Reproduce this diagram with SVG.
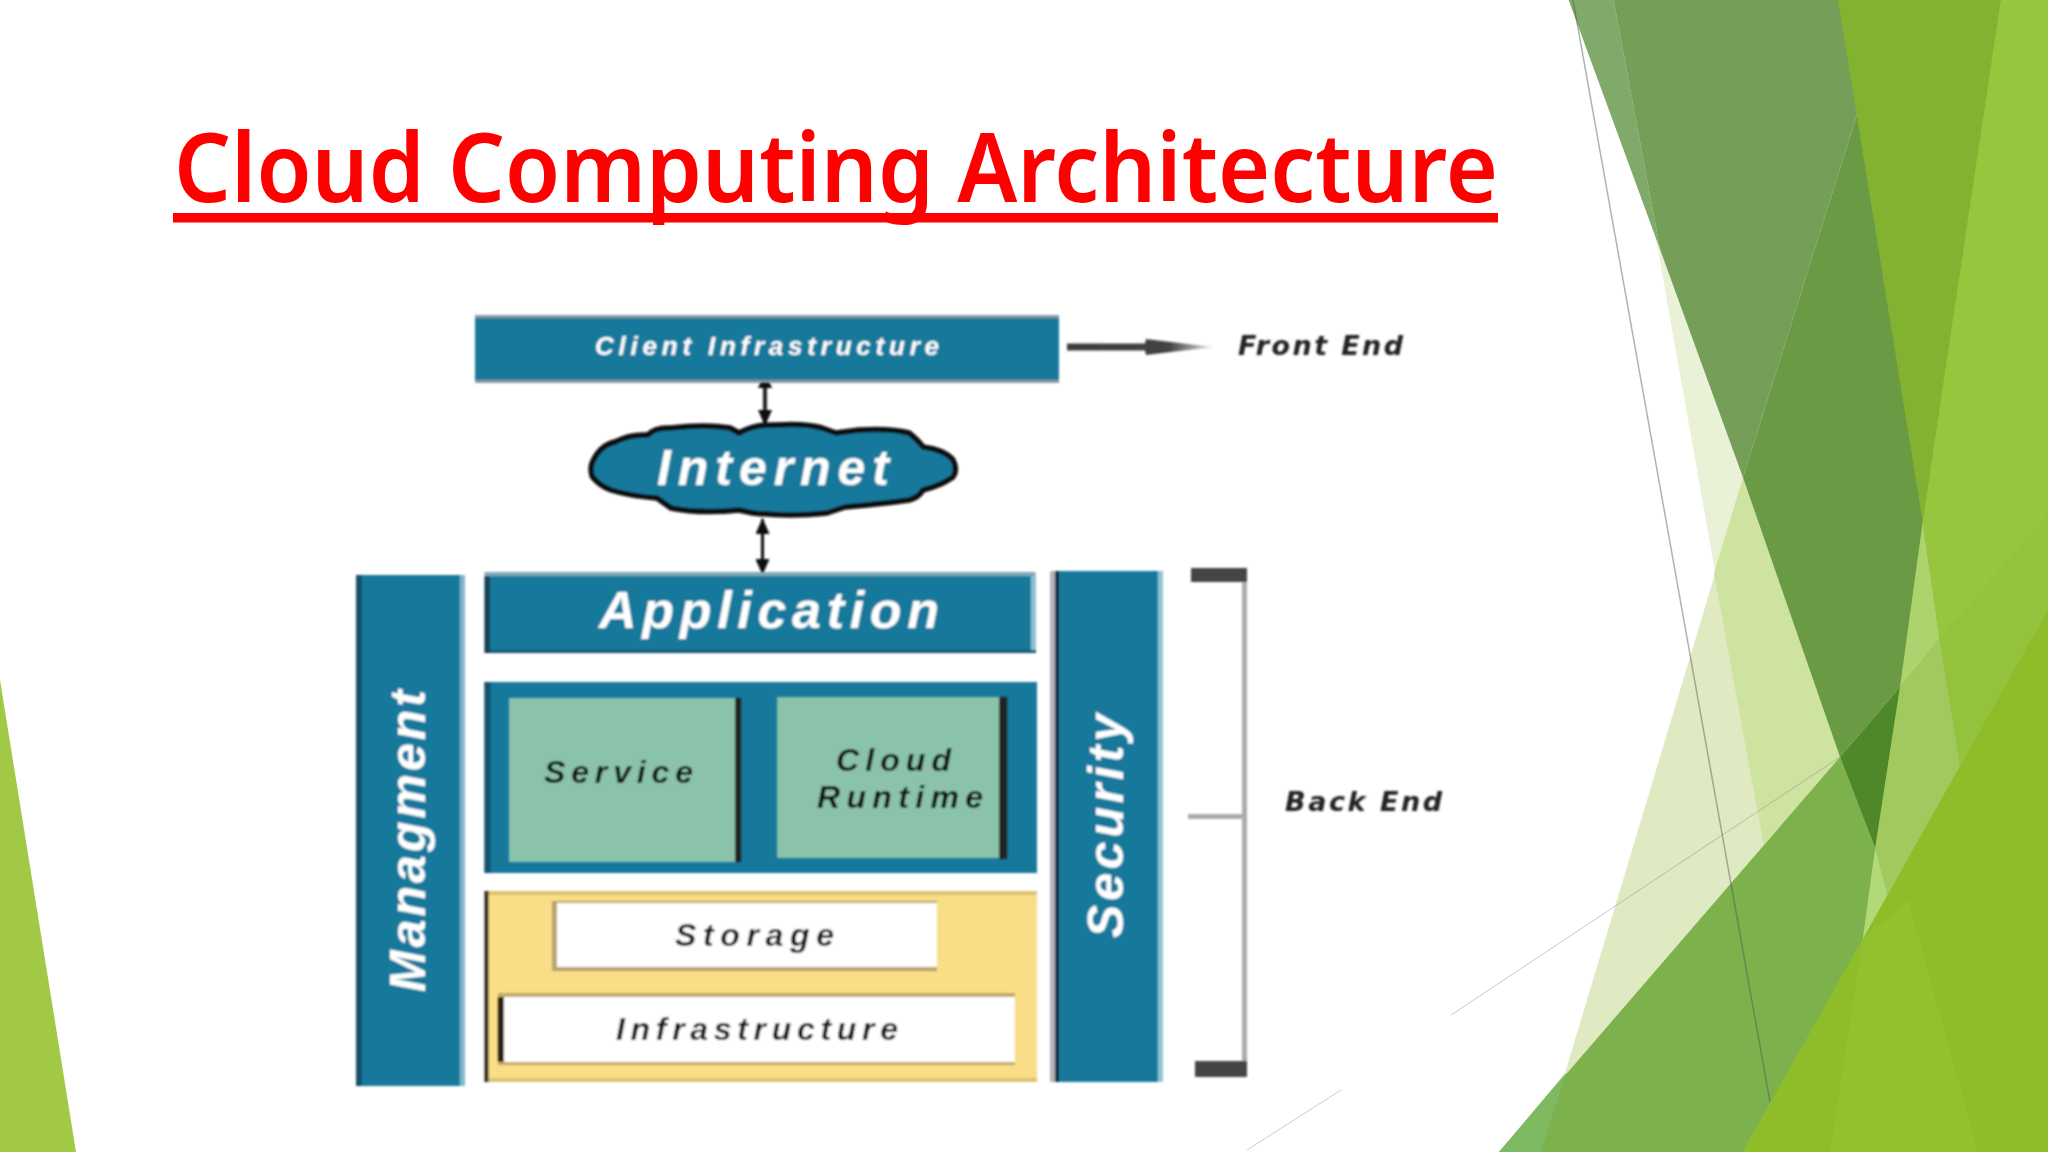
<svg xmlns="http://www.w3.org/2000/svg" width="2048" height="1152" viewBox="0 0 2048 1152">
<style>
.t{font-family:"Liberation Sans",Arial,sans-serif;font-weight:700;font-style:italic}
.d{font-family:"DejaVu Sans",sans-serif;font-weight:700;font-style:italic}
.w{fill:#fff}.k{fill:#111}
.b{fill:#18799b}
</style>
<defs>
<filter id="soft" filterUnits="userSpaceOnUse" x="0" y="0" width="2048" height="1152"><feGaussianBlur stdDeviation="0.9"/></filter>
<linearGradient id="ag" x1="0" x2="1" y1="0" y2="0"><stop offset="0" stop-color="#3c3c3c"/><stop offset=".7" stop-color="#444"/><stop offset="1" stop-color="#444" stop-opacity=".15"/></linearGradient>
<marker id="h" markerUnits="userSpaceOnUse" markerWidth="16" markerHeight="14" refX="15" refY="7" orient="auto-start-reverse"><path d="M0 0L16 7L0 14z" fill="#111"/></marker>
</defs>
<rect width="2048" height="1152" fill="#fff"/>
<g id="background">
<polygon points="0,680 76,1152 0,1152" fill="#a2c945"/>
<polygon points="1854.5,110 1565,1073 1499,1152 1900,1152 1960,600" fill="#dfeac2"/>
<polygon points="1613.6,0 1838,0 1960,757 1887,889 1763.6,845" fill="#e9f1d6"/>
<polygon points="1743,477.6 1840,757 1763.6,845 1714,573" fill="#cfe3a0"/>
<polygon points="1838,0 2048,0 2048,1152 1743,1152 1862,933 1922,521" fill="#95c23c"/>
<polygon points="1499,1152 1840,757 1875.2,848.6 1862.8,939 1743,1152" fill="#7cb14c"/>
<polygon points="1499,1152 1566,1073 1541,1152" fill="#7dba62"/>
<polygon points="1568.6,0 1613.6,0 1660.3,250" fill="#80a96a"/>
<polygon points="1860,105 1940,521.7 1900,687 1840,757 1743,477.6" fill="#6a9a43"/>
<polygon points="1613.6,0 1850,0 1860,105 1743,477.6 1660.3,250" fill="#759e58"/>
<polygon points="1840,757 1900,687 1875.2,848.6" fill="#4f8828"/>
<polygon points="1838,0 2001,0 1922.7,521.7" fill="#82b230"/>
<polygon points="2001,0 2048,0 2048,514 1939.3,639 1922.7,521.7" fill="#98c53e"/>
<polygon points="1922.7,521.7 1939.3,639 1900,687" fill="#add36e"/>
<polygon points="1900,687 1939.3,639 1960,766 1887.6,895 1875.2,848.6" fill="#a1c95f"/>
<polygon points="1875.2,848.6 1887.6,895 1862.8,939" fill="#b2d977"/>
<polygon points="2048,610 2048,1152 1743,1152" fill="#8fbd2a"/>
<polygon points="1862.8,939 1908,900 1978,1152 1830,1152" fill="#93c12e"/>
<line x1="1573" y1="0" x2="1770" y2="1102" stroke="#555" stroke-opacity=".45" stroke-width="1.5"/>
<line x1="1451" y1="1015" x2="1840" y2="757" stroke="#777" stroke-opacity=".4"/>
<line x1="1247" y1="1150" x2="1341" y2="1090" stroke="#999" stroke-opacity=".5"/>
</g>
<g id="title">
<text x="174" y="202" font-family="Noto Sans,Open Sans,sans-serif" font-weight="650" font-size="95" fill="#f00" textLength="1324" lengthAdjust="spacingAndGlyphs">Cloud Computing Architecture</text>
<rect x="173" y="213" width="1325" height="9.500" fill="#f00"/>
</g>
<g id="connectors" filter="url(#soft)">
<line x1="765" y1="373" x2="765" y2="425" stroke="#222" stroke-width="4" marker-start="url(#h)" marker-end="url(#h)"/>
<line x1="762.500" y1="519" x2="762.500" y2="574" stroke="#111" stroke-width="3" marker-start="url(#h)" marker-end="url(#h)"/>
<path d="M1067 343.500H1145L1146 339L1213 347L1146 355L1145 350.500H1067z" fill="url(#ag)"/>
</g>
<g id="client" filter="url(#soft)">
<rect x="475" y="315" width="584" height="68" fill="#8a9aa2"/>
<rect x="475" y="318" width="584" height="62" class="b"/>
<text class="t w" x="595" y="355" font-size="26" textLength="344">Client Infrastructure</text>
</g>
<g id="internet" filter="url(#soft)">
<path d="M592 463Q600 445 615 442Q630 434 648 435Q655 427 671 428Q705 424 730 428L739 433Q755 424 776 425Q805 423 822 428L836 433L859 430Q890 428 909 433Q918 440 923 447Q945 450 953 460Q958 470 953 477Q940 486 923 490Q918 498 909 500Q880 504 845 507L827 513Q790 517 753 513L739 510Q700 514 671 508L657 498Q630 496 611 490Q600 486 592.500 477Q590 470 592 463z" class="b" stroke="#0b0b0b" stroke-width="5.500" stroke-linejoin="round"/>
<text class="t w" x="657" y="485" font-size="50" textLength="232">Internet</text>
</g>
<g id="application" filter="url(#soft)">
<rect x="484.500" y="572" width="551" height="81" fill="#7fa8ba"/>
<rect x="484.500" y="576" width="6" height="77" fill="#123f55"/>
<rect x="490" y="576" width="541" height="77" class="b"/>
<rect x="490" y="650" width="546" height="3" fill="#14566f"/>
<rect x="1031" y="576" width="5" height="74" fill="#8fc0d4"/>
<text class="t w" x="599" y="628" font-size="52" textLength="340">Application</text>
</g>
<g id="managment" filter="url(#soft)">
<rect x="356" y="575" width="109" height="511" class="b"/>
<rect x="356" y="575" width="6" height="511" fill="#14516c"/>
<rect x="460" y="575" width="5" height="511" fill="#7fb6cc"/>
<text class="t w" transform="translate(425 992) rotate(-90)" font-size="50" textLength="302">Managment</text>
</g>
<g id="services" filter="url(#soft)">
<rect x="484.500" y="682" width="552.500" height="191" class="b"/>
<rect x="484.500" y="682" width="6" height="191" fill="#14516c"/>
</g>
<g id="service" filter="url(#soft)">
<rect x="735" y="698" width="6" height="164" fill="#222"/>
<rect x="509" y="698" width="226" height="164" fill="#8bc3aa"/>
<text class="t k" x="544" y="783" font-size="32" textLength="149">Service</text>
</g>
<g id="cloud-runtime" filter="url(#soft)">
<rect x="999" y="697" width="8" height="162" fill="#222"/>
<rect x="777" y="697" width="222" height="161" fill="#8bc3aa"/>
<text class="t k" x="836" y="771" font-size="32" textLength="115">Cloud</text>
<text class="t k" x="817" y="808" font-size="32" textLength="166">Runtime</text>
</g>
<g id="resources" filter="url(#soft)">
<rect x="484.500" y="891" width="552.500" height="191" fill="#f9dd87"/>
<rect x="484.500" y="891" width="552.500" height="4" fill="#dcc273"/>
<rect x="484.500" y="1078" width="552.500" height="4" fill="#dcc273"/>
<rect x="484.500" y="891" width="4" height="191" fill="#222"/>
</g>
<g id="storage" filter="url(#soft)">
<rect x="552" y="901" width="385" height="70" fill="#b9a56a"/>
<rect x="557" y="903" width="380" height="64" fill="#fff"/>
<text class="t k" x="675" y="946" font-size="32" textLength="159">Storage</text>
</g>
<g id="infrastructure" filter="url(#soft)">
<rect x="498" y="993" width="517" height="72" fill="#c2ab66"/>
<rect x="498" y="997" width="6" height="65" fill="#2a2412"/>
<rect x="504" y="997" width="511" height="65" fill="#fff"/>
<text class="t k" x="616" y="1040" font-size="32" textLength="282">Infrastructure</text>
</g>
<g id="security" filter="url(#soft)">
<rect x="1050" y="571" width="113" height="511" class="b"/>
<rect x="1050" y="571" width="5" height="511" fill="#b0b4b8"/>
<rect x="1055" y="571" width="4" height="511" fill="#0c2a3c"/>
<rect x="1158" y="571" width="5" height="511" fill="#8fc4d8"/>
<text class="t w" transform="translate(1123 938) rotate(-90)" font-size="50" textLength="224">Security</text>
</g>
<g id="front-end" filter="url(#soft)">
<text class="d" x="1238" y="355" font-size="27" fill="#222" textLength="165">Front End</text>
</g>
<g id="back-end" filter="url(#soft)">
<rect x="1242" y="580" width="5" height="482" fill="#aaaaae"/>
<rect x="1191" y="568" width="56" height="14" fill="#444"/>
<rect x="1188" y="814" width="59" height="5" fill="#aaaaae"/>
<rect x="1195" y="1061" width="52" height="16" fill="#444"/>
<text class="d" x="1285" y="811" font-size="27" fill="#222" textLength="157">Back End</text>
</g>
</svg>
